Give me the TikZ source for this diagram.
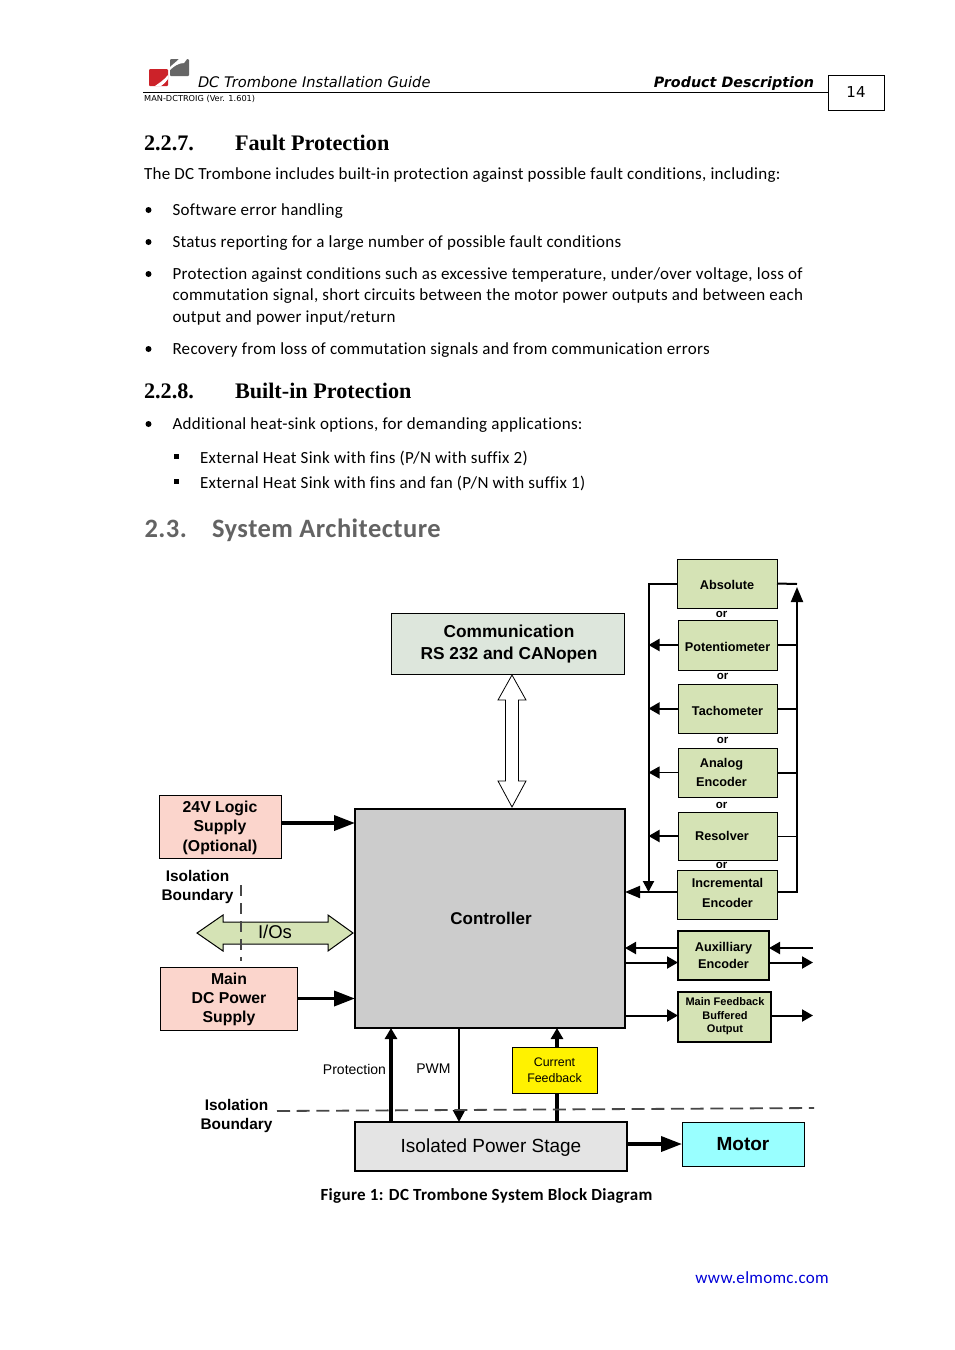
\documentclass[tikz,border=0pt]{standalone}
\usepackage{fontspec}
\usetikzlibrary{arrows.meta,calc}
\setmainfont{Carlito}[LetterSpace=1.8,Ligatures=NoCommon]
\newfontfamily\dgm{Liberation Sans}
\newfontfamily\verd{DejaVu Sans}
\newfontfamily\headf{Liberation Serif}
\definecolor{grn}{HTML}{D5E3B5}
\definecolor{pnk}{HTML}{FBD5CC}
\definecolor{comm}{HTML}{DDE6DC}
\definecolor{ctl}{HTML}{CCCCCC}
\definecolor{iso}{HTML}{E4E4E4}
\definecolor{mot}{HTML}{99FFFF}
\definecolor{hdg}{HTML}{636363}
\definecolor{link}{HTML}{0000D8}
\definecolor{lred}{HTML}{CC2229}
\definecolor{lgry}{HTML}{666666}
\tikzset{
 body/.style={anchor=base west,inner sep=0,outer sep=0,font=\fontsize{17}{20}\selectfont},
 h2/.style={anchor=base west,inner sep=0,outer sep=0,font=\headf\bfseries\fontsize{22.2}{24}\selectfont},
 h3/.style={anchor=base west,inner sep=0,outer sep=0,text=hdg,font=\bfseries\fontsize{26.5}{28}\selectfont},
 head/.style={anchor=base west,inner sep=0,outer sep=0,font=\verd\itshape\fontsize{14.6}{17}\selectfont},
 bul/.style={circle,fill=black,inner sep=0,minimum size=6},
 sq/.style={rectangle,fill=black,inner sep=0,minimum size=5},
 box/.style={draw=black,line width=1pt,inner sep=0,outer sep=0,align=center,font=\dgm\bfseries\fontsize{12.7}{19}\selectfont},
 gbox/.style={box,fill=grn},
 pbox/.style={box,fill=pnk,font=\dgm\bfseries\fontsize{15.8}{19}\selectfont},
 ttxt/.style={inner sep=0,outer sep=0,align=center,font=\dgm\bfseries\fontsize{12.7}{19}\selectfont},
 ortxt/.style={inner sep=0,outer sep=0,font=\dgm\bfseries\fontsize{11.5}{13}\selectfont},
 lbl/.style={inner sep=0,outer sep=0,align=center,font=\dgm\fontsize{14}{17}\selectfont},
 isol/.style={inner sep=0,outer sep=0,align=center,font=\dgm\bfseries\fontsize{15.4}{19}\selectfont},
 wire/.style={line width=2pt,draw=black},
 thick wire/.style={line width=3.6pt,draw=black},
 tipS/.style={-{Triangle[length=11pt,width=12pt]}},
 tipL/.style={-{Triangle[length=21pt,width=15pt]}},
 hollow/.style={draw=black,line width=0.8pt,fill=white},
 bound/.style={draw=black!72,line width=1.8pt,dash pattern=on 13pt off 6.7pt},
}
\begin{document}
\begin{tikzpicture}[x=1pt,y=-1pt]
\useasboundingbox (0,0) rectangle (954,1350);
\fill[white] (0,0) rectangle (954,1350);
% logo
\fill[lred,rounded corners=1pt] (149,69) rectangle (168,86);
\fill[white] (168,75) .. controls (163,81) and (159,83) .. (155,86) -- (161,86) .. controls (164,84) and (166,82) .. (168,79) -- cycle;
\fill[lgry,rounded corners=1pt] (170,59) rectangle (189,76);
\fill[white] (170,70) .. controls (174,66) and (179,63) .. (184,63) -- (187,59) -- (179,59) .. controls (176,62) and (172,65) .. (170,67) -- cycle;
% header
\node[head] (title) at (198,87) {DC Trombone Installation Guide};
\node[head,anchor=base east,font=\verd\bfseries\itshape\fontsize{14.3}{17}\selectfont] (prod) at (814,87) {Product Description};
\node[anchor=base west,inner sep=0,font=\verd\fontsize{8.2}{10}\selectfont] (man) at (144,101) {MAN-DCTROIG (Ver. 1.601)};
\node[draw=black,line width=1pt,minimum width=56,minimum height=35,inner sep=0,outer sep=0,font=\verd\fontsize{15}{17}\selectfont] (pg) at (856,92.5) {14};
\coordinate (hl) at (143,92.5);
\draw[line width=0.8pt] (hl) -- (pg.west);
% text
\node[h2] (s227) at (144,150) {2.2.7.};
\node[h2] (s227t) at (235,150) {Fault Protection};
\node[body] (t0) at (144,179) {The DC Trombone includes built-in protection against possible fault conditions, including:};
\node[bul] (b1) at (148.5,210) {};
\node[body] (t1) at (172.5,215) {Software error handling};
\node[bul] (b2) at (148.5,242) {};
\node[body] (t2) at (172.5,247) {Status reporting for a large number of possible fault conditions};
\node[bul] (b3) at (148.5,274) {};
\node[body] (t3) at (172.5,279) {Protection against conditions such as excessive temperature, under/over voltage, loss of};
\node[body] (t3b) at (172.5,300) {commutation signal, short circuits between the motor power outputs and between each};
\node[body] (t3c) at (172.5,322) {output and power input/return};
\node[bul] (b4) at (148.5,349) {};
\node[body] (t4) at (172.5,354) {Recovery from loss of commutation signals and from communication errors};
\node[h2] (s228) at (144,398) {2.2.8.};
\node[h2] (s228t) at (235,398) {Built-in Protection};
\node[bul] (b5) at (148.5,424) {};
\node[body] (t5) at (172.5,429) {Additional heat-sink options, for demanding applications:};
\node[sq] (q1) at (176.5,456) {};
\node[body] (t6) at (200,463) {External Heat Sink with fins (P/N with suffix 2)};
\node[sq] (q2) at (176.5,481) {};
\node[body] (t7) at (200,488) {External Heat Sink with fins and fan (P/N with suffix 1)};
\node[h3] (s23) at (144.5,537) {2.3.};
\node[h3] (s23t) at (212,537) {System Architecture};
% diagram boxes
\node[gbox,minimum width=100,minimum height=49] (abs) at (727,583.5) {};
\node[ttxt] (abst) at (727,584.5) {Absolute};
\node[gbox,minimum width=99,minimum height=50] (pot) at (727.5,645) {};
\node[ttxt] (pott) at (727.5,646.5) {Potentiometer};
\node[gbox,minimum width=99,minimum height=49] (tach) at (727.5,708.5) {};
\node[ttxt] (tacht) at (727.5,710.5) {Tachometer};
\node[gbox,minimum width=99,minimum height=49] (ana) at (727.5,772.5) {};
\node[ttxt] (anat) at (721.5,772.5) {Analog\\Encoder};
\node[gbox,minimum width=99,minimum height=48] (res) at (727.5,836) {};
\node[ttxt] (rest) at (722,836) {Resolver};
\node[gbox,minimum width=100,minimum height=49] (inc) at (727,894.5) {};
\node[ttxt,font=\dgm\bfseries\fontsize{12.7}{20}\selectfont] (inct) at (727.5,892.5) {Incremental\\Encoder};
\node[gbox,line width=1.2pt,minimum width=91,minimum height=49,font=\dgm\bfseries\fontsize{12.7}{16.5}\selectfont] (aux) at (723.5,955.5) {Auxilliary\\Encoder};
\node[gbox,line width=1.1pt,minimum width=93,minimum height=50] (mfb) at (724.5,1017) {};
\node[ttxt,font=\dgm\bfseries\fontsize{11}{13.5}\selectfont] (mfbt) at (725,1016.5) {Main Feedback\\Buffered\\Output};
\node[ortxt] (or1) at (721.5,614) {or};
\node[ortxt] (or2) at (722.5,676.5) {or};
\node[ortxt] (or3) at (722.5,740) {or};
\node[ortxt] (or4) at (721.5,805) {or};
\node[ortxt] (or5) at (721.5,865) {or};
\node[box,fill=comm,minimum width=233,minimum height=61] (com) at (507.5,643.5) {};
\node[ttxt,font=\dgm\bfseries\fontsize{17.3}{22}\selectfont] (comt) at (509,644.5) {Communication\\RS 232 and CANopen};
\node[box,fill=ctl,line width=2.6pt,minimum width=270,minimum height=219,font=\dgm\bfseries\fontsize{17}{20}\selectfont] (ctrl) at (490,918.5) {\hspace*{2pt}Controller};
\node[pbox,minimum width=122,minimum height=63] (v24) at (220,826.5) {};
\node[ttxt,font=\dgm\bfseries\fontsize{15.8}{19.5}\selectfont] (v24t) at (220,827.5) {24V Logic\\Supply\\(Optional)};
\node[pbox,minimum width=137,minimum height=63] (dc) at (228.5,998.5) {};
\node[ttxt,font=\dgm\bfseries\fontsize{15.8}{19}\selectfont] (dct) at (229,999) {Main\\DC Power\\Supply};
\node[box,fill=yellow,minimum width=85,minimum height=46,font=\dgm\fontsize{12.4}{15.5}\selectfont] (cf) at (554.5,1070) {Current\\Feedback};
\node[box,fill=iso,line width=1.4pt,minimum width=272,minimum height=49] (ips) at (491,1146.5) {};
\node[ttxt,font=\dgm\fontsize{19}{22}\selectfont] (ipst) at (491,1147.5) {Isolated Power Stage};
\node[box,fill=mot,minimum width=122,minimum height=44,font=\dgm\bfseries\fontsize{19}{22}\selectfont] (motor) at (743,1144) {Motor};
% buses and helper coordinates
\coordinate (lb) at (648.5,584);
\coordinate (rb) at (797,584);
\coordinate (rtop) at (797,587);
\coordinate (lbot) at (648.5,892);
\coordinate (ya) at (0,948);
\coordinate (yb) at (0,962.5);
\coordinate (yc) at (0,1015.5);
\coordinate (y24) at (0,823);
\coordinate (xo) at (813,0);
\coordinate (x1) at (391,0);
\coordinate (x2) at (459,0);
\coordinate (x3) at (557,0);
% left bus
\draw[wire,-{Triangle[length=11pt,width=11pt]}] (abs.west) -- (abs.west -| lb) -- (lbot);
\draw[wire,tipS] (pot.west) -- (pot.west -| lb);
\draw[wire,tipS] (tach.west) -- (tach.west -| lb);
\draw[line width=1.2pt,tipS] (ana.west) -- (ana.west -| lb);
\draw[wire,tipS] (res.west) -- (res.west -| lb);
% right bus
\draw[wire] (abs.east) -- (rb);
\draw[wire] (pot.east) -- (pot.east -| rb);
\draw[wire] (tach.east) -- (tach.east -| rb);
\draw[wire] (ana.east) -- (ana.east -| rb);
\draw[line width=1pt] (res.east) -- (res.east -| rb);
\draw[wire,-{Triangle[length=15pt,width=12pt]}] (inc.east |- lbot) -- (lbot -| rb) -- (rtop);
% into controller
\draw[wire,-{Triangle[length=15pt,width=12pt]}] (inc.west |- lbot) -- (lbot -| ctrl.east);
\draw[wire,tipS] (aux.west |- ya) -- (ctrl.east |- ya);
\draw[wire,tipS] (ctrl.east |- yb) -- (aux.west |- yb);
\draw[wire,tipS] (xo |- ya) -- (aux.east |- ya);
\draw[wire,tipS] (aux.east |- yb) -- (xo |- yb);
\draw[wire,tipS] (ctrl.east |- yc) -- (mfb.west |- yc);
\draw[wire,tipS] (mfb.east |- yc) -- (xo |- yc);
\draw[thick wire,tipL] (v24.east |- y24) -- (ctrl.west |- y24);
\draw[thick wire,tipL] (dc.east) -- (ctrl.west |- dc.east);
% bottom
\draw[line width=3.4pt,-{Triangle[length=11pt,width=12pt]}] (x1 |- ips.north) -- (x1 |- ctrl.south);
\draw[line width=2.6pt,-{Triangle[length=12pt,width=12pt]}] (x2 |- ctrl.south) -- (x2 |- ips.north);
\draw[line width=3.4pt] (x3 |- ips.north) -- (x3 |- cf.south);
\draw[line width=3.4pt,-{Triangle[length=11pt,width=12pt]}] (x3 |- cf.north) -- (x3 |- ctrl.south);
\draw[thick wire,tipL] (ips.east |- motor.west) -- (motor.west);
% hollow arrow
\draw[hollow] (512,675) -- (526,700) -- (518.5,700) -- (518.5,781) -- (526,781) -- (512,807) -- (498,781) -- (505.5,781) -- (505.5,700) -- (498,700) -- cycle;
% I/O arrow
\draw[draw=black,line width=1pt,fill=grn] (197,933) -- (223,915) -- (223,922) -- (328,922) -- (328,915) -- (353,933) -- (328,951) -- (328,944) -- (223,944) -- (223,951) -- cycle;
\node[inner sep=0,font=\dgm\fontsize{18.5}{22}\selectfont] (ios) at (275,932) {I/Os};
% isolation boundaries
\coordinate (bv1) at (241,885);
\coordinate (bv2) at (241,961);
\draw[bound,line width=1.3pt,dash pattern=on 11pt off 7pt] (bv1) -- (bv2);
\coordinate (bh1) at (277,1111);
\coordinate (bh2) at (814,1108);
\draw[bound] (bh1) -- (bh2);
\node[isol] (iso1) at (197.5,887) {Isolation\\Boundary};
\node[isol] (iso2) at (236.5,1116) {Isolation\\Boundary};
\node[lbl] (prot) at (354.5,1069) {Protection};
\node[lbl] (pwm) at (433.5,1069) {PWM};
% caption and footer
\node[inner sep=0,font=\bfseries\fontsize{17}{20}\selectfont] (cap) at (486.5,1195.5) {Figure 1: DC Trombone System Block Diagram};
\node[anchor=base east,inner sep=0,text=link,font=\fontsize{17}{20}\selectfont] (url) at (829,1283) {www.elmomc.com};
\end{tikzpicture}
\end{document}
